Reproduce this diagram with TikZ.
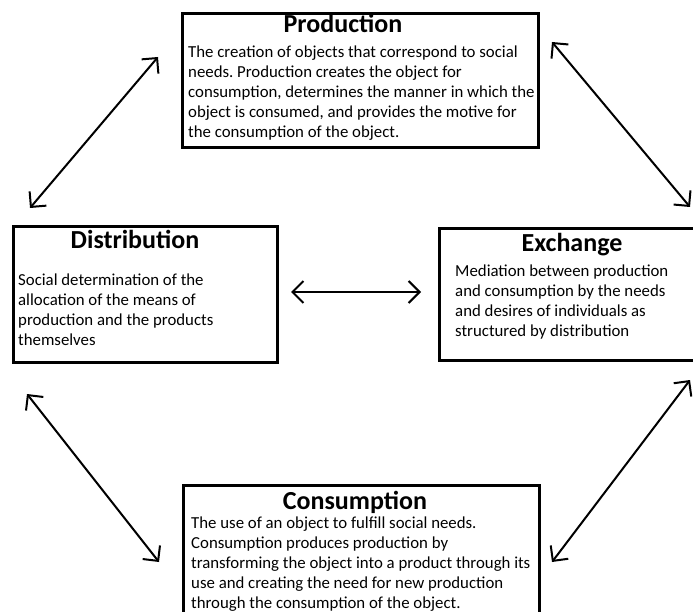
\documentclass[tikz,border=0pt]{standalone}
\usepackage{fontspec}
\setmainfont{Carlito}
\usetikzlibrary{arrows.meta}
\frenchspacing
\begin{document}
\begin{tikzpicture}[x=1pt,y=-1pt,
  box/.style={draw=black, line width=2.8pt, inner sep=0pt, anchor=north west},
  boxtitle/.style={font=\fontsize{26}{30}\selectfont\bfseries, inner sep=0pt, anchor=base},
  boxbody/.style={font=\fontsize{16.8}{20}\selectfont, inner sep=0pt, anchor=north west, align=left},
  link/.style={line width=2pt, line cap=round,
    {Straight Barb[length=11pt,width=22pt,line width=2pt]}-{Straight Barb[length=11pt,width=22pt,line width=2pt]}}]
\useasboundingbox (0,0) rectangle (693,612);
\clip (0,0) rectangle (693,612);
\fill[white] (0,0) rectangle (693,612);

% boxes
\node (prodbox) [box, minimum width=356pt, minimum height=134pt] at (181,12) {};
\node (distbox) [box, minimum width=264pt, minimum height=136pt] at (12,225) {};
\node (exchbox) [box, minimum width=300pt, minimum height=132pt] at (438,227) {};
\node (consbox) [box, minimum width=356pt, minimum height=200pt] at (182,484) {};

% titles
\node (prodtitle) [boxtitle] at (343,33) {Production};
\node (disttitle) [boxtitle] at (135,249) {Distribution};
\node (exchtitle) [boxtitle] at (572,252) {Exchange};
\node (constitle) [boxtitle] at (355,509) {Consumption};

% bodies
\node (prodbody) [boxbody] at (188,45.5) {The creation of objects that correspond to social\\needs. Production creates the object for\\consumption, determines the manner in which the\\object is consumed, and provides the motive for\\the consumption of the object.};
\node (distbody) [boxbody] at (18,273.5) {Social determination of the\\allocation of the means of\\production and the products\\themselves};
\node (exchbody) [boxbody] at (455,264.5) {Mediation between production\\and consumption by the needs\\and desires of individuals as\\structured by distribution};
\node (consbody) [boxbody] at (191,516.5) {The use of an object to fulfill social needs.\\Consumption produces production by\\transforming the object into a product through its\\use and creating the need for new production\\through the consumption of the object.};

% arrow end points
\coordinate (pdA) at (158,57);
\coordinate (pdB) at (30,208);
\coordinate (peA) at (552,42);
\coordinate (peB) at (690,207);
\coordinate (deA) at (291,292);
\coordinate (deB) at (421,292);
\coordinate (dcA) at (27,394);
\coordinate (dcB) at (159,562);
\coordinate (ecA) at (690,380);
\coordinate (ecB) at (552,562);

\draw[link] (pdA) -- (pdB);
\draw[link] (peA) -- (peB);
\draw[link] (deA) -- (deB);
\draw[link] (dcA) -- (dcB);
\draw[link] (ecA) -- (ecB);
\end{tikzpicture}
\end{document}
